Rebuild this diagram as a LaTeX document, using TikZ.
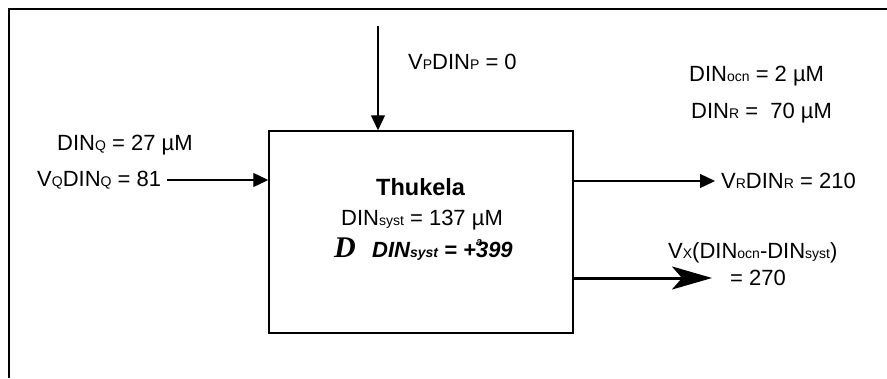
\documentclass[tikz,border=0pt]{standalone}
\usepackage{fontspec}
\setmainfont{Liberation Sans}
\newfontfamily\deltafont{Liberation Serif}
\usetikzlibrary{arrows.meta}
\newcommand{\lo}[1]{{\fontsize{14}{14}\selectfont #1}}
\newcommand{\sups}[1]{\rlap{\raisebox{12pt}{\fontsize{11}{11}\selectfont #1}}}

\begin{document}
\begin{tikzpicture}[
  x=1pt,
  y=-1pt,
  font=\fontsize{22}{26}\selectfont,
  txt/.style={anchor=base west, inner sep=0pt},
  system/.style={draw, line width=1.5pt, minimum width=304pt, minimum height=202pt, inner sep=0pt},
  link/.style={-{Triangle[length=15pt,width=14pt]}, line width=1.3pt},
  bigflow/.style={-{Stealth[length=40pt,width=23pt,inset=10pt]}, line width=3pt}
]
  \useasboundingbox (0,0) rectangle (887,378);
  \draw[line width=2pt] (9,378) -- (9,9) -- (887,9);

  \node[system] (box) at (421,232) {};
  \node[txt, font=\fontsize{23.5}{27}\selectfont\bfseries] (name) at (376,195) {Thukela};
  \node[txt] (dsys) at (341,225) {DIN\lo{syst} = 137 µM};
  \node[txt] (delta) at (334,257) {\deltafont\fontsize{30}{30}\selectfont\bfseries\itshape D};
  \node[txt] (ddsys) at (372,257) {\bfseries\itshape DIN\lo{syst} = +\sups{a}399};

  \node[txt] (vp) at (408,69) {V\lo{P}DIN\lo{P} = 0};
  \node[txt] (docn) at (689,81) {DIN\lo{ocn} = 2 µM};
  \node[txt] (dr) at (691,118) {DIN\lo{R} =\ \ 70 µM};
  \node[txt] (dq) at (57,150) {DIN\lo{Q} = 27 µM};
  \node[txt] (vq) at (37,186) {V\lo{Q}DIN\lo{Q} = 81};
  \node[txt] (vr) at (721,188) {V\lo{R}DIN\lo{R} = 210};
  \node[txt] (vx) at (668,258) {V\lo{X}(DIN\lo{ocn}-DIN\lo{syst})};
  \node[txt] (x270) at (730,285) {= 270};

  \coordinate (pin) at (378,26);
  \coordinate (qin) at (167,180);
  \coordinate (rout) at (715,181);
  \coordinate (xout) at (712,278);

  \draw[link] (pin) -- (pin |- box.north);
  \draw[link] (qin) -- (qin -| box.west);
  \draw[link] (rout -| box.east) -- (rout);
  \draw[bigflow] (xout -| box.east) -- (xout);
\end{tikzpicture}
\end{document}
